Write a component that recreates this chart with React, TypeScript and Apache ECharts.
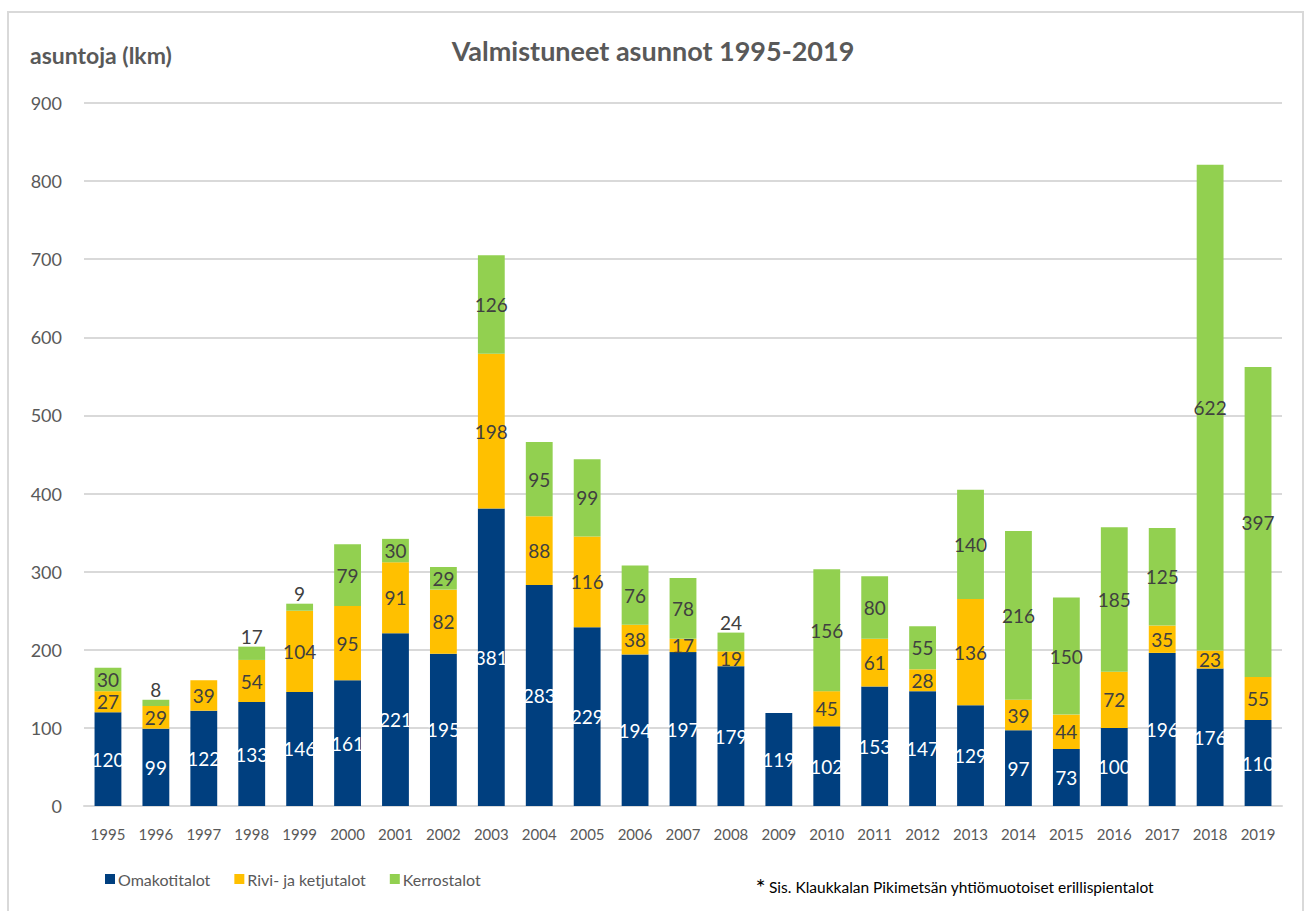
import React, { useEffect, useRef } from "react";
import * as echarts from "echarts";

const years = ["1995","1996","1997","1998","1999","2000","2001","2002","2003","2004","2005","2006","2007","2008","2009","2010","2011","2012","2013","2014","2015","2016","2017","2018","2019"];
const omakotitalot = [120,99,122,133,146,161,221,195,381,283,229,194,197,179,119,102,153,147,129,97,73,100,196,176,110];
const rivitalot = [27,29,39,54,104,95,91,82,198,88,116,38,17,19,0,45,61,28,136,39,44,72,35,23,55];
const kerrostalot = [30,8,0,17,9,79,30,29,126,95,99,76,78,24,0,156,80,55,140,216,150,185,125,622,397];
// Green labels that sit above the bar in the reference
const aboveLabelYears = ["1996","1998","1999","2008"];

const FONT = "Lato";
const GRAY = "#595959";
const DARK = "#404040";

export default function App() {
  const ref = useRef<HTMLDivElement>(null);
  useEffect(() => {
    if (!ref.current) return;
    const chart = echarts.init(ref.current, undefined, { renderer: "svg" });
    const mk = (arr: number[], checkAbove: boolean) =>
      arr.map((v, i) => {
        if (v === 0) return { value: null as any };
        if (checkAbove && aboveLabelYears.includes(years[i])) {
          return { value: v, label: { position: "top", distance: 1 } };
        }
        return { value: v };
      });
    chart.setOption({
      animation: false,
      backgroundColor: "#ffffff",
      textStyle: { fontFamily: FONT },
      title: {
        text: "Valmistuneet asunnot 1995-2019",
        left: "center",
        top: 32,
        textStyle: { fontFamily: FONT, fontSize: 27, fontWeight: "bold", color: GRAY },
      },
      graphic: [
        {
          type: "rect",
          shape: { x: 8, y: 12, width: 1295, height: 905 },
          style: { fill: "none", stroke: "#d9d9d9", lineWidth: 2 },
          silent: true,
          z: -1,
        },
        {
          type: "text",
          left: 30,
          top: 43,
          style: { text: "asuntoja (lkm)", fontFamily: FONT, fontSize: 23, fontWeight: "bold", fill: GRAY },
        },
        {
          type: "text",
          right: 152,
          top: 874,
          style: {
            text: "{a|*} {b|Sis. Klaukkalan Pikimetsän yhtiömuotoiset erillispientalot}",
            rich: {
              a: { fontFamily: FONT, fontSize: 24, fill: "#000000", verticalAlign: "top", lineHeight: 20 },
              b: { fontFamily: FONT, fontSize: 15.5, fill: "#000000", lineHeight: 26 },
            },
          },
        },
      ],
      legend: {
        left: 100,
        top: 866,
        icon: "rect",
        itemWidth: 10,
        itemHeight: 10,
        itemGap: 24,
        textStyle: { fontFamily: FONT, fontSize: 16, color: GRAY, padding: [0, 0, 0, -2] },
        data: ["Omakotitalot", "Rivi- ja ketjutalot", "Kerrostalot"],
      },
      grid: { left: 84, right: 24, top: 103, bottom: 105 },
      xAxis: {
        type: "category",
        data: years,
        axisLine: { show: true, lineStyle: { color: "#d9d9d9", width: 2 } },
        axisTick: { show: false },
        axisLabel: { color: GRAY, fontFamily: FONT, fontSize: 15, margin: 20, interval: 0 },
      },
      yAxis: {
        type: "value",
        min: 0,
        max: 900,
        interval: 100,
        axisLine: { show: false },
        axisTick: { show: false },
        splitLine: { lineStyle: { color: "#d9d9d9", width: 2 } },
        axisLabel: { color: GRAY, fontFamily: FONT, fontSize: 18, margin: 22 },
      },
      series: [
        {
          name: "Omakotitalot",
          type: "bar",
          stack: "total",
          barWidth: "56%",
          itemStyle: { color: "#003F7F" },
          label: { show: true, position: "inside", color: "#ffffff", fontFamily: FONT, fontSize: 19 },
          data: mk(omakotitalot, false),
        },
        {
          name: "Rivi- ja ketjutalot",
          type: "bar",
          stack: "total",
          itemStyle: { color: "#FFC000" },
          label: { show: true, position: "inside", color: DARK, fontFamily: FONT, fontSize: 19 },
          data: mk(rivitalot, false),
        },
        {
          name: "Kerrostalot",
          type: "bar",
          stack: "total",
          itemStyle: { color: "#92D050" },
          label: { show: true, position: "inside", color: DARK, fontFamily: FONT, fontSize: 19 },
          data: mk(kerrostalot, true),
        },
      ],
    });
    return () => chart.dispose();
  }, []);
  return <div ref={ref} style={{ position: "fixed", left: 0, top: 0, width: 1306, height: 911 }} />;
}
